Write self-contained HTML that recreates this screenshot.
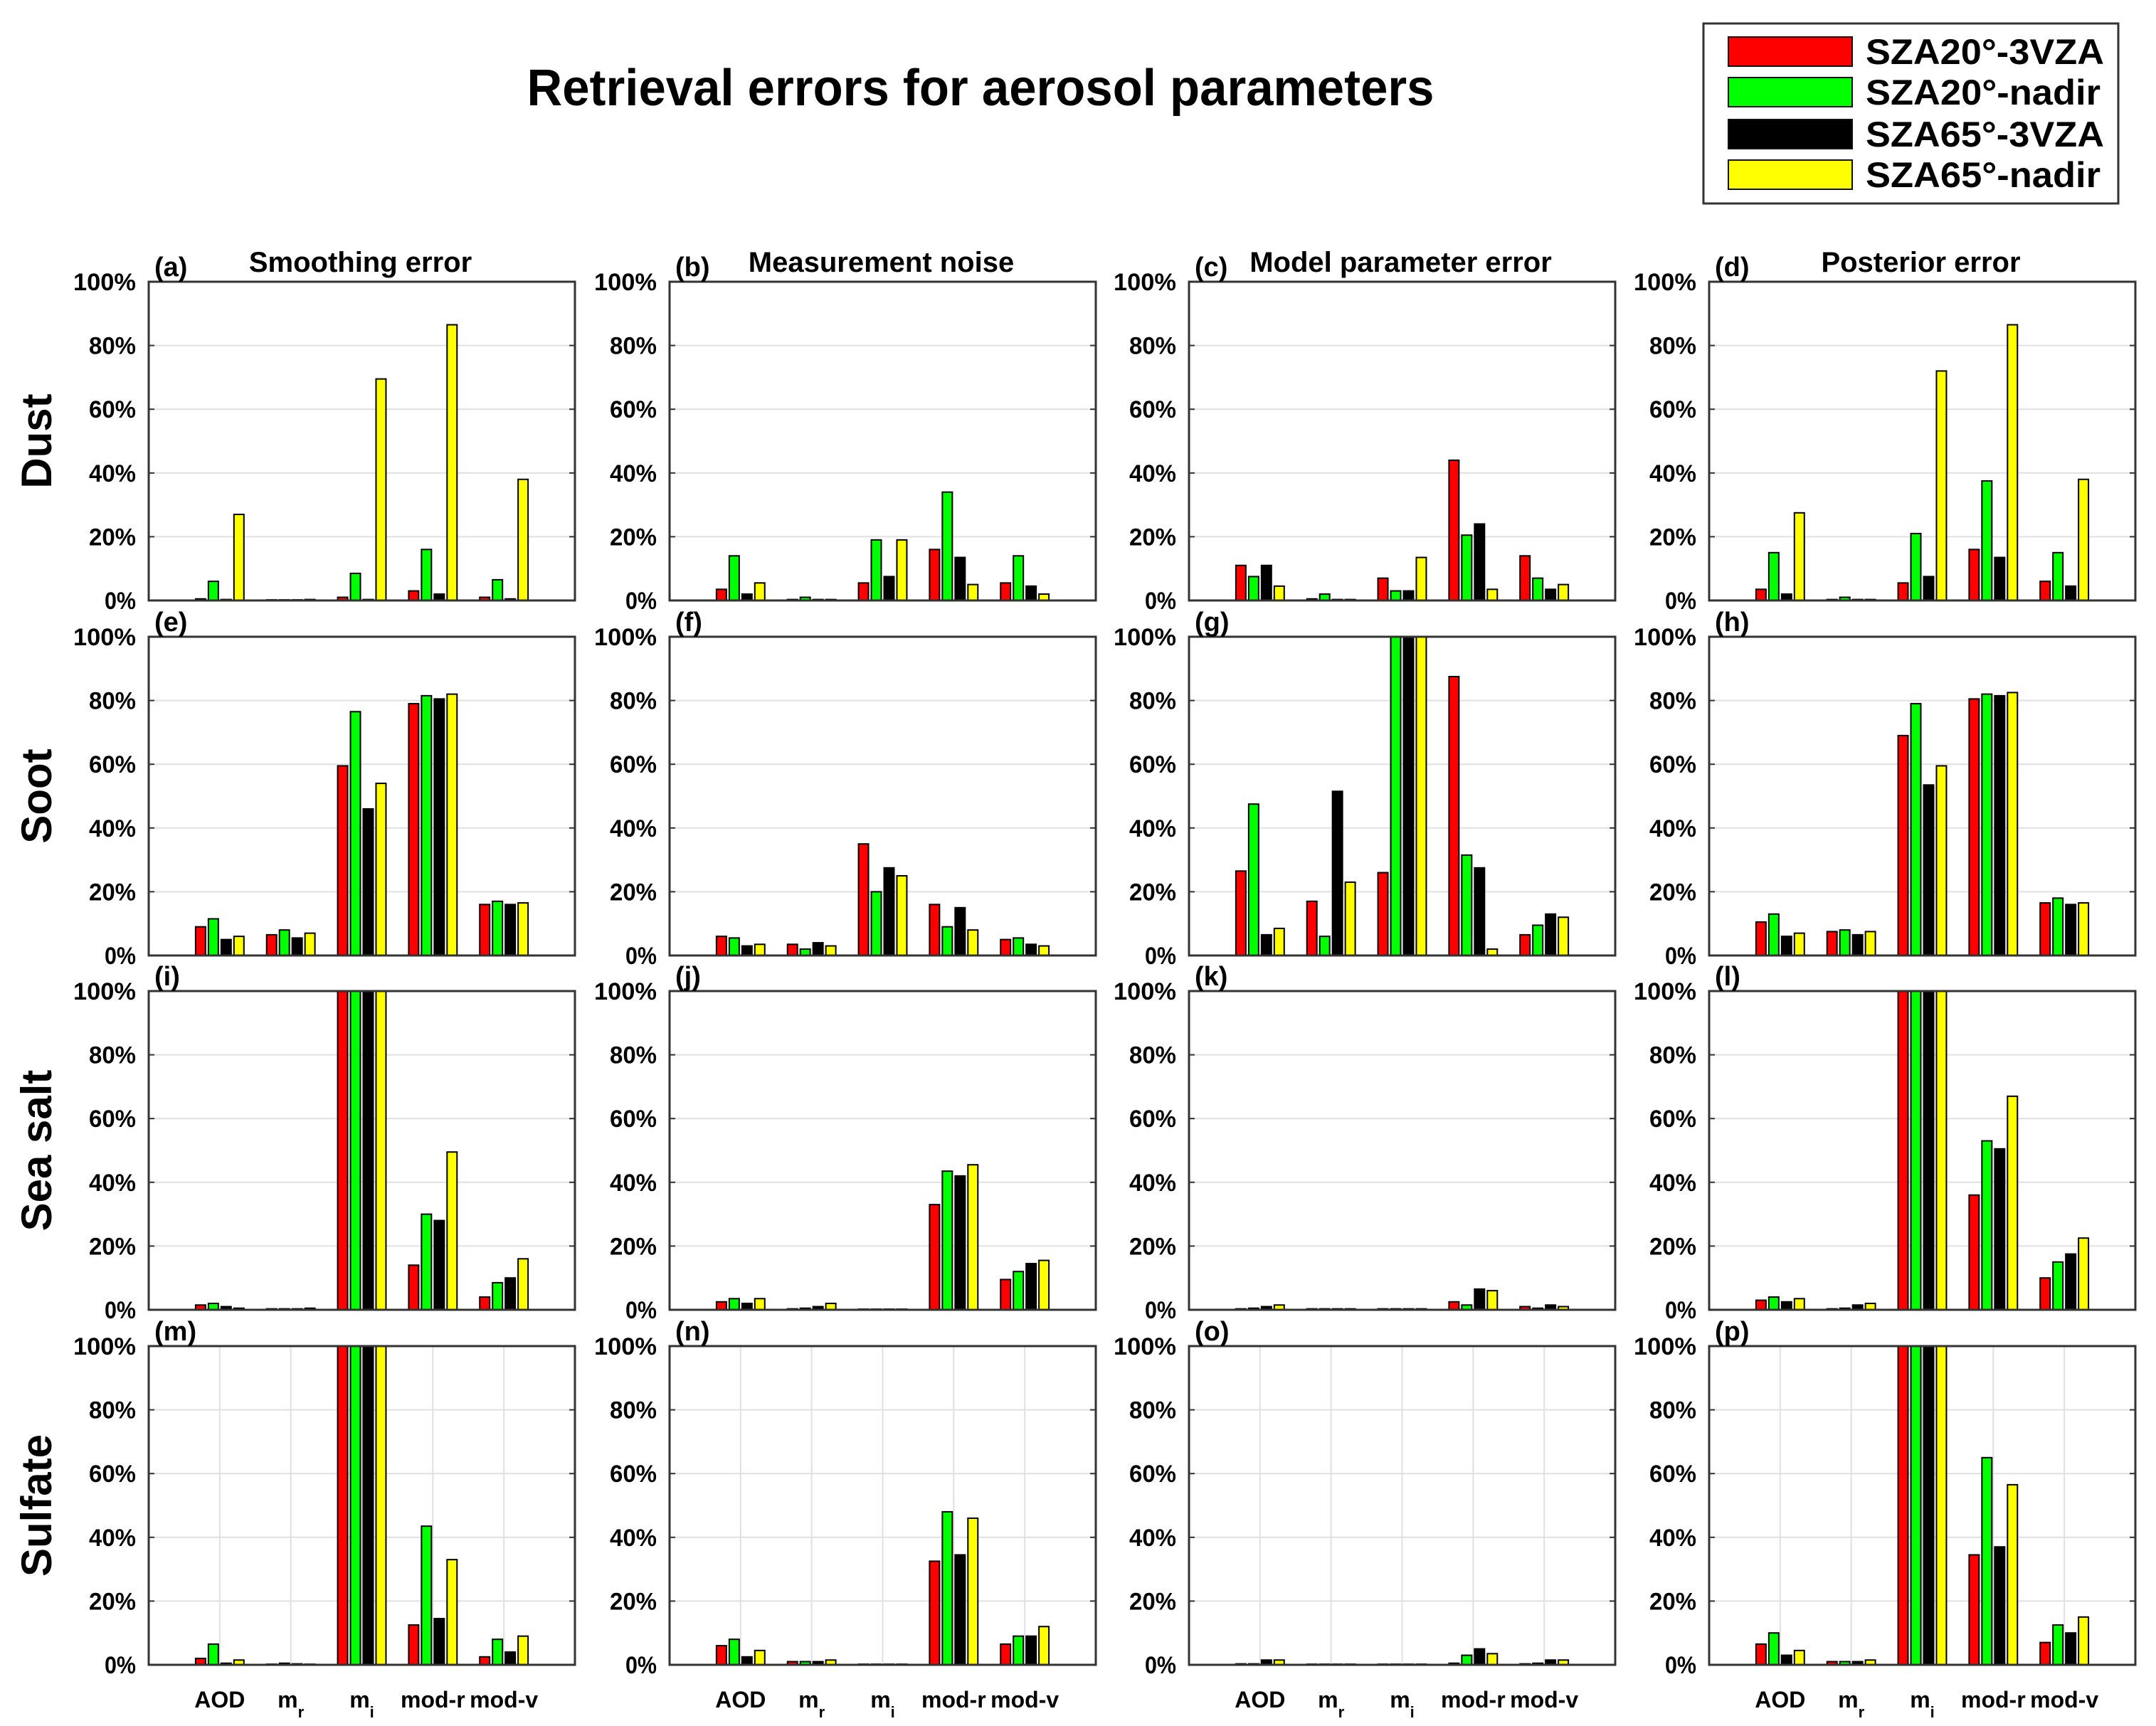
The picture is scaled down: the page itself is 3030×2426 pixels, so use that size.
<!DOCTYPE html>
<html><head><meta charset="utf-8"><style>
html,body{margin:0;padding:0;background:#fff;}
svg{display:block;font-family:"Liberation Sans",sans-serif;font-weight:bold;}
</style></head><body>
<svg id="fig" width="3030" height="2426" viewBox="0 0 3030 2426" xmlns="http://www.w3.org/2000/svg">
<text x="1378" y="148" font-size="72" text-anchor="middle" textLength="1275" lengthAdjust="spacingAndGlyphs">Retrieval errors for aerosol parameters</text>
<g id="legend">
<rect x="2394" y="33" width="583" height="253" fill="#fff" stroke="#333" stroke-width="3"/>
</g>
<g id="panels"></g>
</svg>
<script>
const NS='http://www.w3.org/2000/svg';
const categories=['AOD','m_r','m_i','mod-r','mod-v'];
const seriesNames=['SZA20°-3VZA','SZA20°-nadir','SZA65°-3VZA','SZA65°-nadir'];
const seriesColors=['#ff0000','#00ff00','#000000','#ffff00'];
const yTicks=[0,20,40,60,80,100];
const yTickLabels=['0%','20%','40%','60%','80%','100%'];
const columnTitles=['Smoothing error','Measurement noise','Model parameter error','Posterior error'];
const rowTitles=['Dust','Soot','Sea salt','Sulfate'];
const panelLetters=['a','b','c','d','e','f','g','h','i','j','k','l','m','n','o','p'];
// values[panel][category] = [SZA20-3VZA, SZA20-nadir, SZA65-3VZA, SZA65-nadir] in %
const dustSmoothing=[[0.5,6,0.3,27],[0.2,0.2,0.2,0.3],[1,8.5,0.3,69.5],[3,16,2,86.5],[1,6.5,0.5,38]];
const dustNoise=[[3.5,14,2,5.5],[0.3,1,0.3,0.3],[5.5,19,7.5,19],[16,34,13.5,5],[5.5,14,4.5,2]];
const dustModel=[[11,7.5,11,4.5],[0.5,2,0.3,0.3],[7,3,3,13.5],[44,20.5,24,3.5],[14,7,3.5,5]];
const dustPosterior=[[3.5,15,2,27.5],[0.3,1,0.3,0.3],[5.5,21,7.5,72],[16,37.5,13.5,86.5],[6,15,4.5,38]];
const sootSmoothing=[[9,11.5,5,6],[6.5,8,5.5,7],[59.5,76.5,46,54],[79,81.5,80.5,82],[16,17,16,16.5]];
const sootNoise=[[6,5.5,3,3.5],[3.5,2,4,3],[35,20,27.5,25],[16,9,15,8],[5,5.5,3.5,3]];
const sootModel=[[26.5,47.5,6.5,8.5],[17,6,51.5,23],[26,100,100,100],[87.5,31.5,27.5,2],[6.5,9.5,13,12]];
const sootPosterior=[[10.5,13,6,7],[7.5,8,6.5,7.5],[69,79,53.5,59.5],[80.5,82,81.5,82.5],[16.5,18,16,16.5]];
const seaSmoothing=[[1.5,2,1,0.5],[0.3,0.3,0.3,0.5],[100,100,100,100],[14,30,28,49.5],[4,8.5,10,16]];
const seaNoise=[[2.5,3.5,2,3.5],[0.3,0.5,1,2],[0.2,0.2,0.2,0.2],[33,43.5,42,45.5],[9.5,12,14.5,15.5]];
const seaModel=[[0.3,0.5,1,1.5],[0.3,0.3,0.3,0.3],[0.3,0.3,0.3,0.3],[2.5,1.5,6.5,6],[1,0.5,1.5,1]];
const seaPosterior=[[3,4,2.5,3.5],[0.3,0.5,1.5,2],[100,100,100,100],[36,53,50.5,67],[10,15,17.5,22.5]];
const sulSmoothing=[[2,6.5,0.5,1.5],[0.2,0.5,0.3,0.2],[100,100,100,100],[12.5,43.5,14.5,33],[2.5,8,4,9]];
const sulNoise=[[6,8,2.5,4.5],[1,1,1,1.5],[0.2,0.2,0.2,0.2],[32.5,48,34.5,46],[6.5,9,9,12]];
const sulModel=[[0.3,0.3,1.5,1.5],[0.2,0.2,0.2,0.2],[0.2,0.2,0.2,0.2],[0.5,3,5,3.5],[0.3,0.5,1.5,1.5]];
const sulPosterior=[[6.5,10,3,4.5],[1,1,1,1.5],[100,100,100,100],[34.5,65,37,56.5],[7,12.5,10,15]];
const panelValues=[dustSmoothing,dustNoise,dustModel,dustPosterior,sootSmoothing,sootNoise,sootModel,sootPosterior,seaSmoothing,seaNoise,seaModel,seaPosterior,sulSmoothing,sulNoise,sulModel,sulPosterior];

const colLeft=[209,941,1671,2402], PW=599, rowTop=[396,895,1393,1892], PH=448;
function mk(tag,attrs,parent){const e=document.createElementNS(NS,tag);for(const k in attrs)e.setAttribute(k,attrs[k]);parent.appendChild(e);return e;}
const svg=document.getElementById('fig');
const panels=document.getElementById('panels');
const legend=document.getElementById('legend');

// legend
const legY=[52,109,168,225];
seriesNames.forEach((n,i)=>{
  const r=mk('rect',{x:2429,y:legY[i],width:174,height:41,fill:seriesColors[i],stroke:'#111','stroke-width':2},legend);
  
  
  const t=mk('text',{x:2622,y:legY[i]+38,'font-size':50,textLength:n.endsWith('3VZA')?335:330,lengthAdjust:'spacingAndGlyphs'},legend);
  t.textContent=n;
  
  
});

// row labels
rowTitles.forEach((r,i)=>{
  const cy=rowTop[i]+PH/2;
  const t=mk('text',{x:0,y:0,'font-size':60,'text-anchor':'middle',transform:`translate(72,${cy}) rotate(-90)`},svg);
  t.textContent=r;
  
  
});

for(let p=0;p<16;p++){
  const row=Math.floor(p/4), col=p%4;
  const L=colLeft[col], T=rowTop[row];
  const xs=v=>L+v*PW/6;
  const ys=v=>T+PH-v*PH/100;
  const g=mk('g',{},panels);
  
  
  mk('rect',{x:L,y:T,width:PW,height:PH,fill:'#fff'},g);
  // grid
  yTicks.forEach((t,i)=>{
    if(t>0&&t<100){const gl=mk('line',{x1:L,x2:L+PW,y1:ys(t),y2:ys(t),stroke:'#e0e0e0','stroke-width':2},g);
      }
    const tl=mk('line',{x1:L,x2:L+8,y1:ys(t),y2:ys(t),stroke:'#333','stroke-width':2},g);
    mk('line',{x1:L+PW-8,x2:L+PW,y1:ys(t),y2:ys(t),stroke:'#333','stroke-width':2},g);
    const lab=mk('text',{x:L-18,y:ys(t)+12,'font-size':34,'text-anchor':'end',textLength:yTickLabels[i].length*22,lengthAdjust:'spacingAndGlyphs'},g);
    lab.textContent=yTickLabels[i];
    
    
  });
  if(row===3){
    categories.forEach((c,ci)=>{
      const vl=mk('line',{x1:xs(ci+1),x2:xs(ci+1),y1:T,y2:T+PH,stroke:'#e0e0e0','stroke-width':2},g);
      
    });
  }
  // bars
  const vals=panelValues[p];
  vals.forEach((grp,ci)=>{
    grp.forEach((v,si)=>{
      const cx=ci+1+(si-1.5)*0.18;
      const vv=Math.min(v,100);
      const b=mk('rect',{x:xs(cx-0.07),y:ys(vv),width:xs(0.14)-xs(0),height:ys(0)-ys(vv),fill:seriesColors[si],stroke:'#000','stroke-width':2},g);
      
      
    });
  });
  const box=mk('rect',{x:L,y:T,width:PW,height:PH,fill:'none',stroke:'#333','stroke-width':3},g);
  
  
  const lt=mk('text',{x:L+8,y:T-8,'font-size':38},g);
  lt.textContent='('+panelLetters[p]+')';
  
  
  if(row===0){
    const ct=mk('text',{x:L+PW/2-2,y:T-14,'font-size':40,'text-anchor':'middle'},g);
    ct.textContent=columnTitles[col];
    
    
  }
  if(row===3){
    categories.forEach((c,ci)=>{
      const t=mk('text',{x:xs(ci+1),y:T+PH+60,'font-size':32,'text-anchor':'middle'},g);
      if(c.startsWith('m_')){
        const s1=mk('tspan',{},t);s1.textContent='m';
        const s2=mk('tspan',{'font-size':22,dy:14},t);s2.textContent=c.slice(2);
      } else t.textContent=c;
      
      
    });
  }
}
</script>
</body></html>
